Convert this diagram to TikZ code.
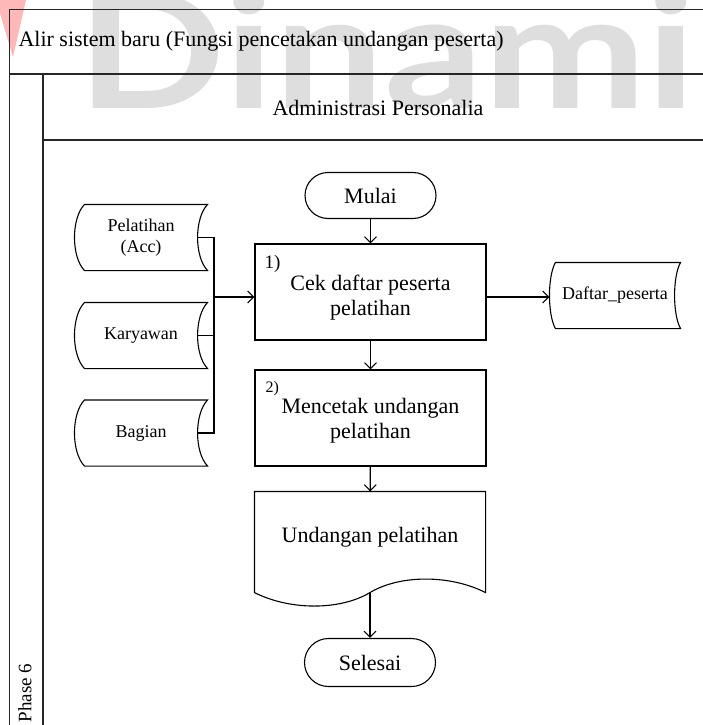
\documentclass[tikz,border=0pt]{standalone}
\usepackage{fontspec}
\setmainfont{Liberation Serif}
\newfontfamily\wmfont{Lato}
\usetikzlibrary{arrows.meta,calc}

% outline of a stored-data symbol around node #1, curve depth #2
\newcommand\storedoutline[2]{%
  \draw ([xshift=#2]#1.north west) -- (#1.north east)
    .. controls ([xshift=-1.33*#2, yshift=-14pt]#1.north east)
           and ([xshift=-1.33*#2, yshift=14pt]#1.south east) .. (#1.south east)
    -- ([xshift=#2]#1.south west)
    .. controls ([xshift=-0.33*#2, yshift=14pt]#1.south west)
           and ([xshift=-0.33*#2, yshift=-14pt]#1.north west) .. cycle;}

\begin{document}
\begin{tikzpicture}[x=1pt, y=-1pt, line width=1.1pt,
  frame/.style={line width=1.4pt, draw=black!85},
  box/.style={draw, minimum width=231pt, minimum height=96pt, inner sep=0pt},
  term/.style={draw, rounded corners=23pt, minimum width=131pt,
               minimum height=46pt, inner sep=0pt,
               font=\fontsize{22}{25}\selectfont},
  txt/.style={align=center, inner sep=0pt, font=\fontsize{22}{25}\selectfont},
  small/.style={align=center, inner sep=0pt, font=\fontsize{18}{21}\selectfont},
  stored/.style={small, minimum height=65pt},
  arr/.style={-{Straight Barb[length=6pt,width=12pt]}},
]
\useasboundingbox (0,0) rectangle (703,725);

% background watermark
\fill[red!28] (-4,0) -- (26,0) -- (13,57) -- cycle;
\node[anchor=base west, inner sep=0pt, text=black!13,
      font=\wmfont\bfseries\fontsize{160}{160}\selectfont] (wm) at (77,108)
  {\scalebox{1.22}[1]{Dinami}};

% swimlane frame
\draw[frame] (9.5,730) -- (9.5,9.5) -- (710,9.5);
\draw[frame] (9.5,74) -- (710,74);
\draw[frame] (43,74) -- (43,730);
\draw[frame] (43,140) -- (710,140);

\node[txt, anchor=west] (title) at (18,41)
  {Alir sistem baru (Fungsi pencetakan undangan peserta)};
\node[txt] (lane) at (378,108) {Administrasi Personalia};
\node[inner sep=0pt, rotate=90, font=\fontsize{19}{19}\selectfont] (phase)
  at (25,693) {Phase 6};

% flow
\node[term] (mul) at (370.5,195.5) {Mulai};

\node[box] (b1) at (370.5,292) {};
\node[txt] (b1t) at (370.5,297.5) {Cek daftar peserta\\pelatihan};
\node[anchor=north west, inner sep=0pt, font=\fontsize{19}{19}\selectfont]
  (b1n) at (264,255) {1)};

\node[box] (b2) at (370.5,418) {};
\node[txt] (b2t) at (370.5,420.5) {Mencetak undangan\\pelatihan};
\node[anchor=north west, inner sep=0pt, font=\fontsize{16}{16}\selectfont]
  (b2n) at (265,381) {2)};

\node[txt, minimum width=230pt, minimum height=90pt] (doc) at (370,537)
  {Undangan pelatihan};
\draw (doc.north west) -- (doc.north east) -- ($(doc.south east)+(0,10)$)
  .. controls ($(doc.south)+(80,-8)$) and ($(doc.south)+(30,-8)$)
  .. ($(doc.south)+(0,10)$)
  .. controls ($(doc.south)+(-30,28)$) and ($(doc.south)+(-80,28)$)
  .. ($(doc.south west)+(0,10)$) -- cycle;
\coordinate (docb) at ($(doc.south)+(0,10)$);

\node[term, minimum height=48pt, rounded corners=24pt] (sel) at (370,662.5) {Selesai};

% stored data
\node[stored, minimum width=132pt] (pel) at (141,237.5) {Pelatihan\\(Acc)};
\node[stored, minimum width=132pt] (kar) at (141,335.5) {Karyawan};
\node[stored, minimum width=132pt] (bag) at (141,433) {Bagian};
\node[stored, minimum width=130pt] (daf) at (615,295.5) {Daftar\_peserta};
\storedoutline{pel}{10pt}
\storedoutline{kar}{10pt}
\storedoutline{bag}{10pt}
\storedoutline{daf}{6pt}

\coordinate (pel-r) at ([xshift=-10pt]pel.east);
\coordinate (kar-r) at ([xshift=-10pt]kar.east);
\coordinate (bag-r) at ([xshift=-10pt]bag.east);
\coordinate (jn) at (214,297);

% connectors
\draw (pel-r) -- (pel-r -| jn) -- (bag-r -| jn) -- (bag-r);
\draw (kar-r) -- (kar-r -| jn);
\draw[arr] (jn) -- (jn -| b1.west);
\draw[arr] (b1.east |- jn) -- (daf.west |- jn);
\draw[arr] (mul) -- (b1);
\draw[arr] (b1) -- (b2);
\draw[arr] (b2) -- (doc);
\draw[arr] (docb) -- (sel);
\end{tikzpicture}
\end{document}
